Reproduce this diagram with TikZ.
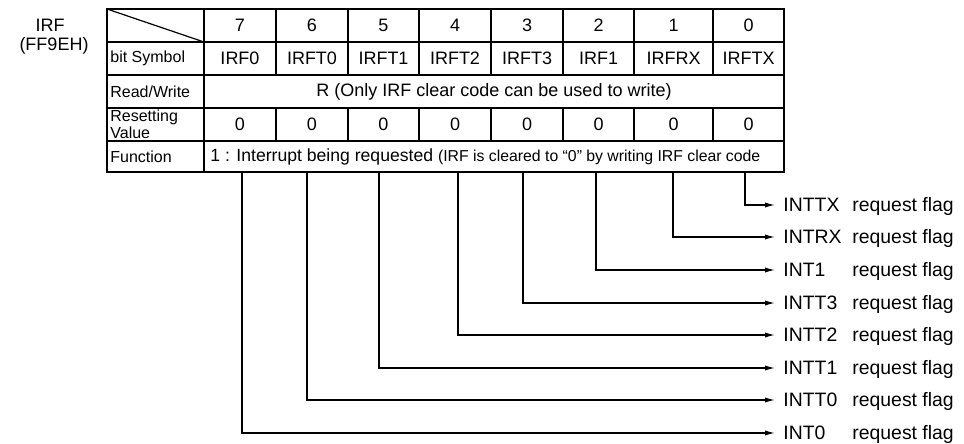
\documentclass[tikz,border=0pt]{standalone}
\usepackage{fontspec}
\setmainfont{Liberation Sans}
\usetikzlibrary{arrows.meta}

\tikzset{
  cell/.style={inner sep=0pt, font=\fontsize{9}{10}\selectfont},
  rowhead/.style={anchor=west, inner sep=0pt, align=left, font=\fontsize{8}{6.5}\selectfont},
  flagname/.style={anchor=west, inner sep=4pt, font=\fontsize{9.7}{11}\selectfont},
  flagtext/.style={anchor=base west, inner sep=0pt, font=\fontsize{9.7}{11}\selectfont},
  gridline/.style={line width=0.6pt},
  tapline/.style={line width=0.6pt, -{Latex[length=5pt,width=2.6pt]}}
}

\begin{document}
\begin{tikzpicture}[x=0.5pt,y=-0.5pt]
		\useasboundingbox (0,0) rectangle (964,444);
		% register name and address
		\node[cell] (reg) at (50,25) {IRF};
		\node[cell] (addr) at (54,46) {(FF9EH)};
		% table frame
		\draw[gridline] (107,9) rectangle (784,172);
		\foreach \y in {42,75,108,141} \draw[gridline] (107,\y) -- (784,\y);
		\draw[gridline] (204,9) -- (204,172);
		\foreach \x in {276,348,419,491,563,634,713} {
			\draw[gridline] (\x,9) -- (\x,75);
			\draw[gridline] (\x,108) -- (\x,141);
		}
		\draw[gridline] (107,9) -- (204,42);
		% row heads
		\node[rowhead] (hsym) at (110,58.5) {bit Symbol};
		\node[rowhead] (hrw) at (110,91.5) {Read/Write};
		\node[rowhead] (hrst) at (110,124.5) {Resetting\\Value};
		\node[rowhead] (hfn) at (110,156.5) {Function};
		% bit cells
		\foreach \c/\b/\s in {240/7/IRF0, 312/6/IRFT0, 383.5/5/IRFT1, 455/4/IRFT2, 527/3/IRFT3, 598.5/2/IRF1, 673.5/1/IRFRX, 748.5/0/IRFTX} {
			\node[cell] (bit\b) at (\c,25.5) {\b};
			\node[cell] (sym\b) at (\c,58.5) {\s};
			\node[cell] (rst\b) at (\c,124.5) {0};
		}
		\node[cell] (rw) at (494,91.5) {R (Only IRF clear code can be used to write)};
		\node[cell, anchor=west, font=\fontsize{8.8}{10}\selectfont] (fn) at (210,156.5) {1 : Interrupt being requested {\fontsize{7.9}{10}\selectfont(IRF is cleared to “0” by writing IRF clear code}};
		% flags
		\foreach \b/\x/\y/\n in {0/745/205/INTTX, 1/673/237/INTRX, 2/596/270/INT1, 3/523/303/INTT3, 4/458/335/INTT2, 5/379/368/INTT1, 6/307/400/INTT0, 7/242/433/INT0} {
			\coordinate (tap\b) at (\x,172);
			\node[flagname] (fl\b) at (775,\y) {\n};
			\node[flagtext] (req\b) at ([xshift=38.5pt]fl\b.base west) {request flag};
			\draw[tapline] (tap\b) |- (fl\b.west);
		}
\end{tikzpicture}
\end{document}
